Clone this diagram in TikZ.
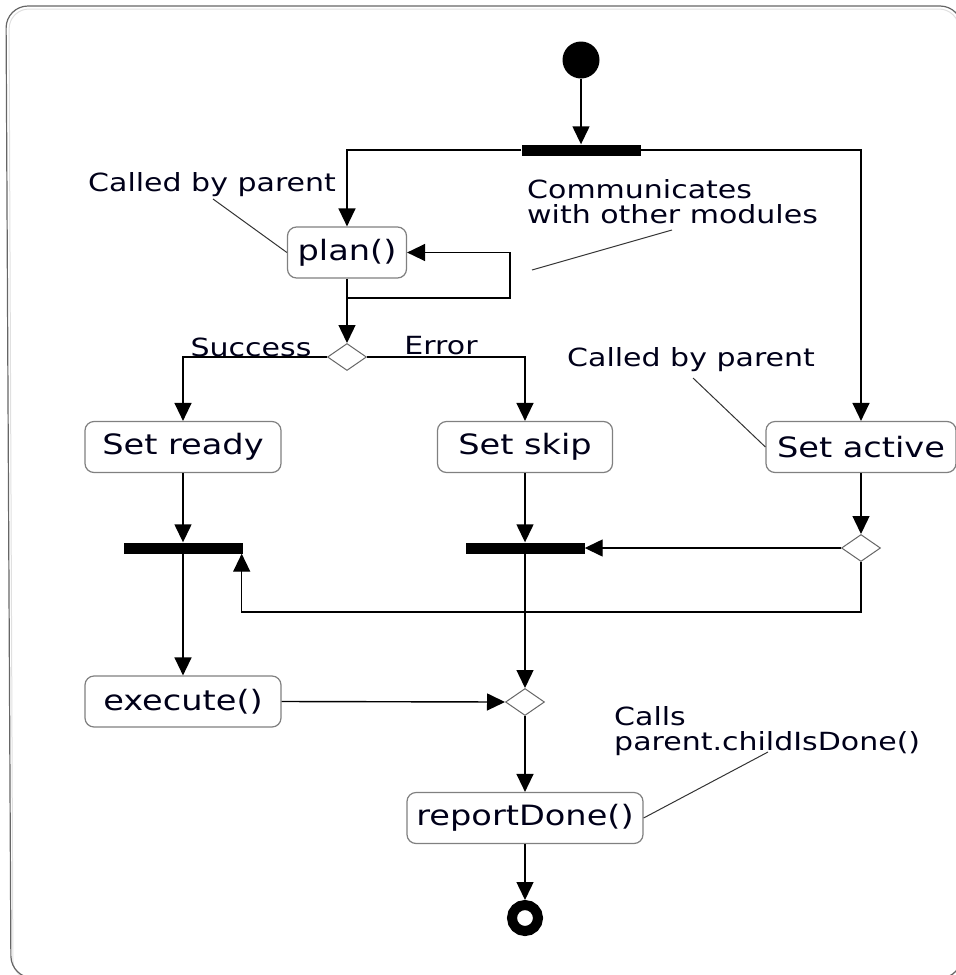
\documentclass[tikz,border=0pt]{standalone}
\usepackage{fontspec}
\setmainfont{DejaVu Sans}
\newfontfamily\wide[FakeStretch=1.2]{DejaVu Sans}
\usetikzlibrary{arrows.meta,shapes.geometric}
\begin{document}
\begin{tikzpicture}[x=1pt,y=-1pt,
  conn/.style={draw=black, line width=1.4pt},
  arr/.style={conn,-{Triangle[length=18pt,width=17pt]}},
  act/.style={draw=black!50, line width=1.2pt, rounded corners=9pt, fill=white,
    minimum height=51pt, inner sep=0pt, text=black!90!blue,
    font=\wide\fontsize{28}{32}\selectfont},
  note/.style={font=\wide\fontsize{25}{25}\selectfont, text=black!90!blue,
    align=left, inner sep=0pt, anchor=west},
  guard/.style={font=\wide\fontsize{25}{25}\selectfont, text=black!90!blue, inner sep=0pt},
  lead/.style={draw=black!80, line width=1pt},
  bar/.style={rectangle, fill=black, minimum width=119pt, minimum height=11pt, inner sep=0pt},
  choice/.style={diamond, draw=black!60, line width=1pt, fill=white, aspect=1.45,
    minimum width=39pt, minimum height=27pt, inner sep=0pt},
]
\useasboundingbox (0,0) rectangle (956,975);

% slide frame
\draw[black!12, line width=1pt, rounded corners=20pt] (13,980) -- (9,9) -- (959,9) -- (959,980) -- cycle;
\draw[black!60, line width=1.2pt, rounded corners=22pt] (11,978) -- (6,6) -- (962,6) -- (962,978) -- cycle;

% initial and final states
\node[circle, fill=black, minimum size=37pt, inner sep=0pt] (start) at (581,60) {};
\node[circle, draw=black, line width=10pt, minimum size=26pt, inner sep=0pt] (final) at (525,918) {};

% fork / join bars
\node[bar] (fork) at (581,150) {};
\node[bar] (join1) at (183,548) {};
\node[bar] (join2) at (525,548) {};

% actions
\node[act, minimum width=119pt] (plan) at (347,252.5) {plan()};
\node[act, minimum width=196pt] (ready) at (183,447) {Set ready};
\node[act, minimum width=175pt] (skip) at (525,447) {Set skip};
\node[act, minimum width=190pt] (active) at (861,447) {Set active};
\node[act, minimum width=196pt] (exec) at (183,701.5) {execute()};
\node[act, minimum width=236pt] (report) at (525,818) {reportDone()};

% decisions
\node[choice] (d1) at (347,357) {};
\node[choice] (d2) at (861,548) {};
\node[choice] (d3) at (525,702) {};

% notes
\node[note] (n1) at (88,185) {Called by parent};
\node[note] (n2) at (527,202) {Communicates\\with other modules};
\node[note] (n3) at (567,360) {Called by parent};
\node[note] (n4) at (614,731) {Calls\\parent.childIsDone()};

% guard labels
\node[guard] (ls) at (251,347) {Success};
\node[guard] (le) at (441,346) {Error};

% note leaders
\coordinate (n1a) at (213,199);
\coordinate (n2a) at (672,230);
\coordinate (n2b) at (532,270);
\coordinate (n3a) at (693,378);
\coordinate (n4a) at (768,752);
\draw[lead] (n1a) -- (plan.west);
\draw[lead] (n2a) -- (n2b);
\draw[lead] (n3a) -- (active.west);
\draw[lead] (n4a) -- (report.east);

% control flow
\draw[arr] (start) -- (fork.north);
\draw[arr] (fork.west) -| (plan.north);
\draw[arr] (fork.east) -| (active.north);
\coordinate (loop) at (510,298);
\draw[arr] (plan.south) -- (d1.north);
\draw[arr] (plan.south |- loop) -- (loop) |- (plan.east);
\draw[arr] (d1.west) -| (ready.north);
\draw[arr] (d1.east) -| (skip.north);
\draw[arr] (ready.south) -- (join1.north);
\draw[arr] (skip.south) -- (join2.north);
\draw[arr] (active.south) -- (d2.north);
\draw[arr] (d2.west) -- (join2.east);
\coordinate (back) at (861,612);
\draw[arr] (d2.south) -- (back) -| ([xshift=-1pt]join1.south east);
\draw[arr] (join1.south) -- (exec.north);
\draw[arr] (join2.south) -- (d3.north);
\draw[arr] (exec.east) -- (d3.west);
\draw[arr] (d3.south) -- (report.north);
\draw[arr] (report.south) -- (final.north);
\end{tikzpicture}
\end{document}
